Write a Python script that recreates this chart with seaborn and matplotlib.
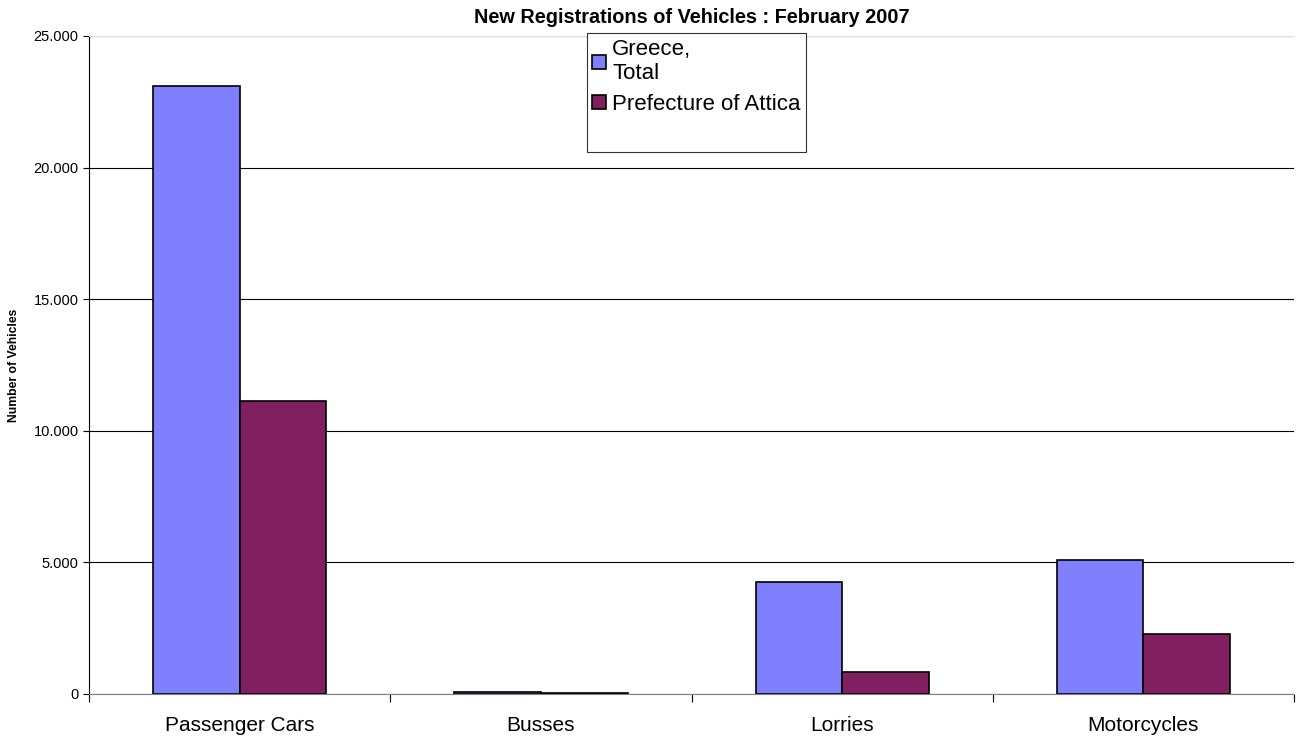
import pandas as pd
import numpy as np
import matplotlib
matplotlib.use("Agg")
import matplotlib.pyplot as plt
import seaborn as sns
from matplotlib.patches import Rectangle
from matplotlib.ticker import FuncFormatter, FixedLocator

# Données
categories = ["Passenger Cars", "Busses", "Lorries", "Motorcycles"]
greece_total = [23100, 70, 4260, 5100]
attica = [11130, 25, 840, 2290]
series_labels = ["Greece,\nTotal", "Prefecture of Attica"]
colors = ["#8080FF", "#802060"]

df = pd.DataFrame({
    "Category": categories * 2,
    "Vehicles": greece_total + attica,
    "Series": [series_labels[0]] * 4 + [series_labels[1]] * 4,
})

sns.set_style("white")
plt.rcParams['font.family'] = ['Liberation Sans', 'DejaVu Sans']
plt.rcParams['text.color'] = 'black'
plt.rcParams['axes.labelcolor'] = 'black'
plt.rcParams['xtick.color'] = 'black'
plt.rcParams['ytick.color'] = 'black'

fig = plt.figure(figsize=(12.96, 7.4), dpi=100)
ax = fig.add_axes([0.0687, 0.0622, 0.9298, 0.8892])

sns.barplot(data=df, x="Category", y="Vehicles", hue="Series", order=categories,
            hue_order=series_labels, palette=colors, width=0.575, saturation=1,
            edgecolor="black", linewidth=1.2, ax=ax)

ax.set_xlim(-0.5, 3.5)
ax.set_ylim(0, 25000)
ax.set_yticks(np.arange(0, 25001, 5000))
ax.yaxis.set_major_formatter(FuncFormatter(lambda v, p: f"{int(v):,}".replace(",", ".")))
ax.yaxis.grid(True, color="black", linewidth=0.8)
ax.set_axisbelow(True)

# Graduations entre les catégories
ax.xaxis.set_major_locator(FixedLocator([-0.5, 0.5, 1.5, 2.5, 3.5]))
ax.xaxis.set_minor_locator(FixedLocator([0, 1, 2, 3]))
ax.set_xticklabels([])
ax.set_xticklabels(categories, minor=True, fontsize=15)
ax.tick_params(axis="x", which="major", bottom=True, length=6, color="black", width=0.8)
ax.tick_params(axis="x", which="minor", bottom=False, pad=14)
ax.tick_params(axis="y", left=True, length=4, color="black", width=0.8, labelsize=10.5)

ax.set_xlabel("")
ax.set_ylabel("Number of Vehicles", fontsize=8.7, fontweight="bold")
ax.yaxis.set_label_coords(-0.057, 0.5)
ax.set_title("New Registrations of Vehicles : February 2007", fontsize=14.3,
             fontweight="bold", pad=9)

ax.spines["left"].set_color("black")
ax.spines["bottom"].set_color("#808080")
ax.spines["top"].set_color("#e0e0e0")
ax.spines["right"].set_visible(False)

# Légende avec un espace vide en bas comme dans l'original
handles, labels = ax.get_legend_handles_labels()
handles.append(Rectangle((0, 0), 1, 1, fill=False, edgecolor="none"))
labels.append(" ")
leg = ax.legend(handles, labels, loc="upper left", bbox_to_anchor=(0.413, 1.004),
                fontsize=16, frameon=True, fancybox=False, edgecolor="black",
                handlelength=0.6, handleheight=0.6, handletextpad=0.3, borderpad=0.25,
                labelspacing=0.45, borderaxespad=0)
leg.get_frame().set_linewidth(0.8)

plt.savefig("out.png", dpi=100)
